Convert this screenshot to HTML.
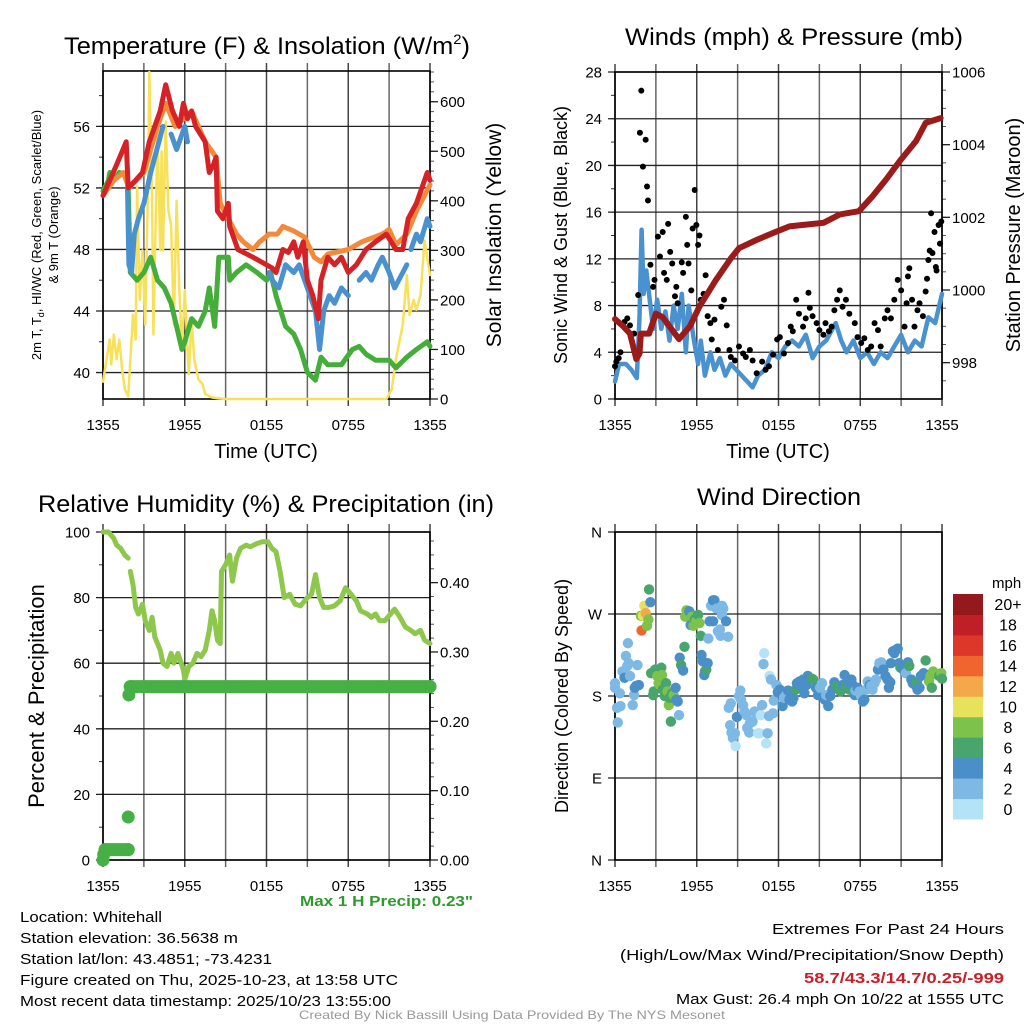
<!DOCTYPE html>
<html><head><meta charset="utf-8">
<style>
html,body{margin:0;padding:0;background:#fff;}
svg{display:block;font-family:"Liberation Sans",sans-serif;}
</style></head>
<body>
<svg id="fig" width="1024" height="1024" viewBox="0 0 1024 1024" xmlns="http://www.w3.org/2000/svg">
<g id="texts">
<text x="64" y="54" font-size="24" textLength="406" lengthAdjust="spacingAndGlyphs">Temperature (F) &amp; Insolation (W/m<tspan font-size="14" dy="-10">2</tspan><tspan dy="10">)</tspan></text>
<text x="625" y="45" font-size="24" textLength="338" lengthAdjust="spacingAndGlyphs">Winds (mph) &amp; Pressure (mb)</text>
<text x="38" y="512" font-size="24" textLength="456" lengthAdjust="spacingAndGlyphs">Relative Humidity (%) &amp; Precipitation (in)</text>
<text x="697" y="505" font-size="24" textLength="164" lengthAdjust="spacingAndGlyphs">Wind Direction</text>
<text x="266" y="458" font-size="20" text-anchor="middle">Time (UTC)</text>
<text x="778" y="458" font-size="20" text-anchor="middle">Time (UTC)</text>
<text transform="translate(41,235) rotate(-90)" font-size="13" text-anchor="middle">2m T, T<tspan font-size="9" dy="3">d</tspan><tspan dy="-3">, HI/WC (Red, Green, Scarlet/Blue)</tspan></text>
<text transform="translate(58,235) rotate(-90)" font-size="13" text-anchor="middle">&amp; 9m T (Orange)</text>
<text transform="translate(501,235) rotate(-90)" font-size="21" text-anchor="middle">Solar Insolation (Yellow)</text>
<text transform="translate(567,235) rotate(-90)" font-size="18" text-anchor="middle">Sonic Wind &amp; Gust (Blue, Black)</text>
<text transform="translate(1020,235) rotate(-90)" font-size="20" text-anchor="middle">Station Pressure (Maroon)</text>
<text transform="translate(44,696) rotate(-90)" font-size="22" text-anchor="middle">Percent &amp; Precipitation</text>
<text transform="translate(568,696) rotate(-90)" font-size="18" text-anchor="middle">Direction (Colored By Speed)</text>
<text x="300" y="906" font-size="15" font-weight="bold" fill="#2e9a2e" textLength="173" lengthAdjust="spacingAndGlyphs">Max 1 H Precip: 0.23"</text>
<g font-size="15">
<text x="20" y="922" textLength="142" lengthAdjust="spacingAndGlyphs">Location: Whitehall</text>
<text x="20" y="943" textLength="218" lengthAdjust="spacingAndGlyphs">Station elevation: 36.5638 m</text>
<text x="20" y="964" textLength="252" lengthAdjust="spacingAndGlyphs">Station lat/lon: 43.4851; -73.4231</text>
<text x="20" y="985" textLength="378" lengthAdjust="spacingAndGlyphs">Figure created on Thu, 2025-10-23, at 13:58 UTC</text>
<text x="20" y="1006" textLength="371" lengthAdjust="spacingAndGlyphs">Most recent data timestamp: 2025/10/23 13:55:00</text>
</g>
<g font-size="15" text-anchor="end">
<text x="1004" y="934" textLength="232" lengthAdjust="spacingAndGlyphs">Extremes For Past 24 Hours</text>
<text x="1004" y="960" textLength="384" lengthAdjust="spacingAndGlyphs">(High/Low/Max Wind/Precipitation/Snow Depth)</text>
<text x="1004" y="983" font-weight="bold" fill="#c8202a" textLength="200" lengthAdjust="spacingAndGlyphs">58.7/43.3/14.7/0.25/-999</text>
<text x="1004" y="1004" textLength="328" lengthAdjust="spacingAndGlyphs">Max Gust: 26.4 mph On 10/22 at 1555 UTC</text>
</g>
<text x="512" y="1019" font-size="12" fill="#999" text-anchor="middle" textLength="426" lengthAdjust="spacingAndGlyphs">Created By Nick Bassill Using Data Provided By The NYS Mesonet</text>
</g>
</svg>
<script>
const xTickLabels=["1355","1955","0155","0755","1355"];
const redT=[[0,51.5],[0.5,52.5],[1,53.5],[1.7,55],[1.85,52],[2.4,52.5],[2.9,53],[3.4,55],[3.8,56],[4.2,57],[4.6,58.7],[5.1,57],[5.6,56],[5.9,57.5],[6.2,56.5],[6.5,57],[6.8,56],[7.5,55],[7.8,53],[8.1,53.5],[8.3,54],[8.4,50.5],[8.8,50],[9.2,51],[9.3,49.5],[9.9,48],[11,47.5],[12,47],[12.4,46.8],[12.7,46.5],[13.2,48],[13.6,47.8],[14,48.5],[14.3,47.5],[14.7,48.5],[15,46],[15.4,45],[15.8,43.5],[16,46],[16.5,47.5],[17,47],[17.5,47.5],[18,46.5],[18.6,47],[19.3,48],[20,48.5],[20.8,49],[21.5,48],[22,48],[22.4,50],[23,51],[23.8,53],[24,52.5]];
const orangeT=[[0,51.5],[0.8,52.5],[1.5,53],[1.9,52],[3,53],[4,56],[4.6,57.5],[5.3,56],[6.5,57],[7.5,55],[8.3,54],[8.6,51],[9.2,50],[9.8,49],[10.3,48.5],[11,48],[11.5,48.5],[12.2,49],[12.8,49],[13.2,49.5],[14,49.2],[14.8,48.8],[15.5,47.5],[16,47.2],[16.5,47.7],[18,48],[19,48.5],[20.5,49],[21,49.3],[21.5,48.3],[22.3,49],[23,50.5],[24,52.2]];
const blueT=[[1.8,52],[1.9,47],[2.1,46.5],[2.3,49],[2.6,50],[3,51],[3.5,53],[4.1,55],[4.4,56],null,[5.0,55.5],[5.4,54.5],[6,56],[6.2,55],null,[12.2,46.5],[12.4,46],[12.9,45.5],[13.4,47],[14,46.5],[14.4,47],[14.8,46],[15.2,45],[15.6,44],[15.9,41.5],[16.2,44],[16.6,45],[17,44.5],[17.5,45.5],[18,45],null,[18.8,46],[19.3,46.5],[19.7,46],[20.2,47],[20.5,47.5],[21,46.5],[21.4,45.5],[22,46.5],[22.3,47],null,[22.6,48],[23,49],[23.3,48.5],[23.8,50],[24,49.5]];
const greenTd=[[0,51.8],[0.4,52.5],[0.5,53],[0.8,52.5],[1.2,53],[1.7,52.8],[1.85,52],[2,46.5],[2.5,46],[3,46.5],[3.5,47.5],[4,46],[4.5,45.5],[5,44.5],[5.4,43],[5.8,41.5],[6,42],[6.5,43.5],[7,43],[7.5,44],[7.8,45.5],[8.2,43],[8.5,47.5],[9.2,47.5],[9.3,46],[9.8,46.5],[10.5,47],[11.3,46.5],[12,46],[12.3,46.5],[12.7,45],[13.4,43],[14,42.5],[14.5,41.5],[15,40],[15.6,39.5],[16,41],[16.5,40.5],[17.5,40.5],[18.3,41.5],[18.8,41.7],[19.3,41.2],[20,40.8],[21,40.8],[21.5,40.3],[22.3,41],[23,41.5],[23.8,42],[24,41.7]];
const solar=[[0,35],[0.5,120],[0.6,70],[0.8,130],[1,80],[1.2,120],[1.4,60],[1.6,20],[1.85,5],[2.2,170],[2.4,120],[2.5,430],[2.7,200],[2.9,300],[3.1,150],[3.3,420],[3.4,660],[3.6,400],[3.7,130],[4,540],[4.2,300],[4.3,500],[4.4,300],[4.6,560],[4.8,380],[5,350],[5.2,150],[5.4,400],[5.6,220],[5.8,100],[6,220],[6.2,100],[6.3,50],[6.5,160],[6.7,80],[7,40],[7.3,30],[7.5,10],[8,3],[9,0],[20.8,0],[21.2,20],[21.5,80],[22,150],[22.3,250],[22.5,170],[22.8,200],[23,180],[23.3,210],[23.6,320],[24,250]];
const windSpd=[[0,1.5],[0.3,3],[0.8,3],[1.2,2.5],[1.6,1.8],[1.8,7],[1.95,14.5],[2.1,9],[2.3,11],[2.6,8],[2.8,6],[3.1,8.5],[3.4,6],[3.7,7.5],[4,5],[4.3,8],[4.6,6],[4.9,9],[5.2,4],[5.4,8],[5.8,5],[6.1,3],[6.3,5],[6.6,2],[7,4],[7.3,2.5],[7.7,3.5],[8.1,2],[8.5,3],[8.9,2.5],[9.3,2],[9.7,1.5],[10.1,1],[10.5,2],[11,2.5],[11.5,4],[12,3.5],[12.5,4.5],[13,5],[13.5,4.5],[14,5.5],[14.5,3.5],[15,4.5],[15.5,5],[16.2,6.5],[16.6,5],[17,4],[17.5,5],[18,3.5],[18.5,4],[19,3],[19.5,4],[20,3.5],[20.5,4.5],[21,5.5],[21.5,4],[22,5],[22.5,4.5],[23,7],[23.5,6.5],[24,9]];
const gusts=[[0,2.8],[0.1,3.2],[0.27,3.5],[0.4,4],[0.7,6.6],[0.9,6.9],[1.1,6.3],[1.4,5.6],[1.7,8.9],[1.93,26.4],[1.83,22.8],[2.25,22.2],[2.05,19.9],[2.35,18.2],[2.42,17],[2.6,11.5],[2.8,9.6],[2.9,10.2],[3.15,13.9],[3.3,12.2],[3.5,14.3],[3.6,10.8],[3.8,10.2],[3.9,15],[4.05,12.6],[4.2,11.6],[4.4,8.8],[4.5,9.6],[4.6,8.2],[4.9,11.7],[5.0,10.8],[5.2,15.6],[5.3,13.2],[5.4,11.6],[5.6,9.3],[5.7,14.6],[5.85,17.9],[5.97,14.9],[6.1,13.2],[6.2,14],[6.3,8.5],[6.5,9],[6.65,10.6],[6.8,7.1],[7.0,6.5],[7.1,5.1],[7.3,6.8],[7.55,4.2],[7.8,7.9],[8.0,8.5],[8.2,6.3],[8.4,4.2],[8.5,3.6],[8.8,3.3],[9.1,4.5],[9.4,3.9],[9.6,3.6],[9.9,4.2],[10.1,3.3],[10.4,2.2],[10.8,3.2],[11.05,2.5],[11.3,2.8],[11.6,3.8],[11.9,5.1],[12.1,5.3],[12.4,3.9],[12.7,4.8],[12.9,6.2],[13.05,5.8],[13.3,8.5],[13.5,7.3],[13.8,6.2],[14.0,6.9],[14.2,9.1],[14.3,7.8],[14.5,7.1],[14.8,6.5],[15.0,5.9],[15.3,5.5],[15.45,6.5],[15.7,5.8],[15.9,6.2],[16.1,7.6],[16.3,8.5],[16.5,9.3],[16.7,7.9],[16.95,8.5],[17.2,7.3],[17.6,6.5],[17.8,5.3],[18.07,4.8],[18.3,5.2],[18.55,4.2],[18.8,4.5],[19.05,6.5],[19.3,5.9],[19.5,4.5],[19.8,6.9],[20.0,7.6],[20.25,6.9],[20.5,8.5],[20.75,10.2],[21.0,9.3],[21.25,6.2],[21.4,8.2],[21.5,10.5],[21.6,11.2],[21.8,8.5],[21.98,6.2],[22.2,7.6],[22.35,8.2],[22.6,7.1],[22.8,9.2],[22.9,10.3],[23.0,11.9],[23.1,12.7],[23.2,15.9],[23.3,12.5],[23.45,14.3],[23.55,11.3],[23.6,11],[23.75,14.9],[23.85,13.3],[23.95,15.2]];
const pressure=[[0,999.2],[0.6,999.0],[1.1,998.8],[1.56,998.1],[1.8,998.25],[1.9,998.8],[2.5,998.8],[3,999.35],[3.5,999.25],[4.7,998.65],[5.5,999.0],[6.2,999.55],[7.4,1000.27],[8.5,1000.87],[9.1,1001.15],[10.4,1001.38],[11.6,1001.57],[12.8,1001.75],[14,1001.8],[15.3,1001.85],[16.5,1002.08],[17.9,1002.17],[18.9,1002.58],[19.9,1003.04],[20.9,1003.55],[22.1,1004.1],[22.8,1004.6],[23.9,1004.73]];
const rh=[[0,100],[0.4,100],[0.8,98],[1.0,96],[1.3,95],[1.6,93],[1.85,92],null,[2.0,88],[2.2,84],[2.4,77],[2.6,75],[2.9,78],[3.1,73],[3.4,70],[3.6,74],[3.8,68],[4.2,64],[4.4,60],[4.7,59],[5.0,63],[5.2,60],[5.5,63],[5.9,58],[6.0,55],[6.3,59],[6.6,60],[6.9,63],[7.2,62],[7.5,64],[7.8,70],[8.0,76],[8.2,73],[8.4,67],[8.6,66],[8.7,88],[9.0,90],[9.3,93],[9.5,85],[9.8,92],[10.1,95],[10.5,96],[10.8,95.5],[11.3,96.5],[11.7,97],[12.1,97],[12.4,95],[12.7,94],[13.0,88],[13.3,80],[13.7,81],[14.1,78],[14.5,77.5],[15.0,80],[15.3,81],[15.6,87],[15.9,80],[16.2,77],[16.6,77],[17.0,77.5],[17.4,79],[17.8,83],[18.2,81],[18.6,79],[18.9,76],[19.4,75],[19.7,74],[20.0,75],[20.3,73],[20.7,73],[21.1,75],[21.4,76.5],[21.8,74],[22.2,71],[22.6,70],[22.9,69],[23.3,70],[23.6,67],[24,66]];
const precip=[[0,0],[0.05,0.008],[0.15,0.015],[1.85,0.015],[1.85,0.062],[1.9,0.238],[2.0,0.25],[24,0.25]];
const windDir=[[0,189,3],[0,194,3],[0.15,167,3],[0.2,151,3],[0.35,183,3],[0.4,169,3],[0.55,207,3],[0.7,200,5],[0.8,224,3],[0.95,238,3],[0.9,213,3],[1.0,216,3],[1.1,202,3],[1.3,170,3],[1.4,181,3],[1.45,189,5],[1.55,191,5],[1.65,214,3],[1.75,192,5],[1.9,268,9],[1.95,252,15],[2.05,268,11],[2.15,279,11],[2.25,271,13],[2.35,257,9],[2.45,264,9],[2.5,297,7],[2.6,283,5],[2.65,205,7],[2.8,181,7],[2.85,185,7],[2.95,209,7],[3.1,202,9],[3.2,194,9],[3.3,192,9],[3.4,211,7],[3.45,203,9],[3.5,187,7],[3.65,180,7],[3.75,194,7],[3.85,185,9],[3.95,170,9],[4.0,178,7],[4.1,152,7],[4.2,183,7],[4.3,181,9],[4.45,189,5],[4.5,176,5],[4.6,174,5],[4.7,159,3],[4.75,222,5],[4.85,214,7],[5.0,208,5],[5.1,234,7],[5.15,267,9],[5.25,274,9],[5.45,273,5],[5.55,258,5],[5.65,267,9],[5.75,257,9],[5.85,264,7],[5.95,262,9],[6.1,269,7],[6.2,260,9],[6.3,246,7],[6.35,225,5],[6.45,218,5],[6.55,203,5],[6.6,207,5],[6.7,209,7],[6.8,216,5],[6.85,243,3],[6.95,262,5],[7.05,279,3],[7.2,285,5],[7.3,285,5],[7.45,276,3],[7.2,262,5],[7.55,251,3],[7.7,253,3],[7.75,246,3],[7.85,279,3],[7.95,276,3],[7.85,269,3],[8.15,262,5],[8.3,245,3],[8.35,167,3],[8.5,172,3],[8.45,148,3],[8.55,140,3],[8.65,134,3],[8.8,139,3],[8.85,125,1],[8.95,157,5],[9.1,180,3],[9.2,186,3],[9.25,176,3],[9.4,170,3],[9.5,163,3],[9.65,159,3],[9.7,145,3],[9.85,140,3],[9.9,150,3],[10.1,152,3],[10.25,163,3],[10.35,162,3],[10.5,139,1],[10.6,139,1],[10.7,159,1],[10.8,170,3],[10.9,215,3],[10.95,227,1],[11.1,128,1],[11.2,139,3],[11.3,158,3],[11.35,202,1],[11.45,198,3],[11.6,161,3],[11.65,175,3],[11.85,192,3],[11.95,184,5],[12.1,187,5],[12.3,169,5],[12.4,178,3],[12.55,181,3],[12.7,186,5],[12.8,176,5],[13.0,174,5],[13.1,178,5],[13.25,187,7],[13.35,194,5],[13.55,196,5],[13.65,191,5],[13.8,198,5],[13.9,183,5],[14.05,192,5],[14.15,202,5],[14.3,198,5],[14.45,199,7],[14.55,198,7],[14.75,189,5],[14.9,181,5],[15.05,189,3],[15.2,194,3],[15.4,176,5],[15.5,181,3],[15.65,169,5],[15.8,180,5],[15.95,187,5],[16.1,195,5],[16.3,191,7],[16.4,189,7],[16.55,185,7],[16.7,192,5],[16.85,203,5],[16.95,192,7],[17.1,194,5],[17.2,187,7],[17.35,198,5],[17.45,192,5],[17.6,181,5],[17.65,186,3],[17.8,189,5],[17.95,185,3],[18.05,180,3],[18.2,174,5],[18.3,176,5],[18.45,187,3],[18.55,196,3],[18.7,192,5],[18.8,191,3],[18.9,187,3],[19.05,194,3],[19.15,198,3],[19.3,209,5],[19.4,216,3],[19.55,217,3],[19.6,214,3],[19.7,209,5],[19.85,202,5],[20.0,198,5],[20.1,189,5],[20.2,195,5],[20.25,216,5],[20.4,229,5],[20.5,227,5],[20.65,231,5],[20.75,232,5],[20.85,216,5],[20.95,211,7],[21.1,213,5],[21.25,207,5],[21.35,205,3],[21.5,217,5],[21.6,213,7],[21.75,198,5],[21.85,194,5],[22.05,192,5],[22.15,195,7],[22.2,187,5],[22.35,189,5],[22.45,202,5],[22.65,205,5],[22.8,219,7],[22.9,203,5],[23.05,196,9],[23.15,202,9],[23.25,189,7],[23.35,207,9],[23.5,205,9],[23.7,203,9],[23.8,202,7],[23.95,205,9],[24,199,7]];
const speedLabels=["0","2","4","6","8","10","12","14","16","18","20+"];
const speedColors=["#b4e2f6","#7db9e4","#4a8fc7","#48a56b","#7cc24b","#e6e25b","#f5a84a","#ef652d","#dd3729","#c01f28","#93191c"];

const NS="http://www.w3.org/2000/svg";
const svg=document.getElementById('fig');
function mk(tag,attrs,parent){const e=document.createElementNS(NS,tag);for(const k in attrs)e.setAttribute(k,attrs[k]);(parent||svg).appendChild(e);return e;}
function lin(d0,d1,r0,r1){return v=>r0+(v-d0)*(r1-r0)/(d1-d0);}
function pathFrom(pts,fx,fy){let d="",pen=false;for(const p of pts){if(!p){pen=false;continue;}d+=(pen?"L":"M")+fx(p[0]).toFixed(1)+","+fy(p[1]).toFixed(1);pen=true;}return d;}

function panel(o){
  const g=mk('g',{});
  
  
  const X=lin(0,24,o.x0,o.x1);
  for(let h=0;h<=24;h+=3){
    const gl=mk('line',{x1:X(h),x2:X(h),y1:o.y0-8,y2:o.y1+7,stroke:(h%6==0?"#444":"#666"),'stroke-width':1.5},g);
    
    
  }
  for(let i=0;i<xTickLabels.length;i++){
    const t=mk('text',{x:X(i*6),y:o.y1+31,'font-size':15,'text-anchor':'middle'},g);
    t.textContent=xTickLabels[i];
    
    
  }
  const L=lin(o.lmin,o.lmax,o.y1,o.y0);
  for(let v=o.lminor0;v<=o.lmax+1e-9;v+=o.lminor){mk('line',{x1:o.x0-4,x2:o.x0,y1:L(v),y2:L(v),stroke:"#333",'stroke-width':1},g);}
  for(const v of o.lmaj){
    const gl=mk('line',{x1:o.x0-7,x2:o.x1,y1:L(v),y2:L(v),stroke:"#222",'stroke-width':1.3},g);
    
    
    const t=mk('text',{x:o.x0-13,y:L(v)+5.5,'font-size':15,'text-anchor':'end'},g);
    t.textContent=o.lfmt?o.lfmt(v):v;
    
    
  }
  if(o.rmaj){
    const R=lin(o.rmin,o.rmax,o.y1,o.y0);
    for(let v=o.rminor0;v<=o.rmax+1e-9;v+=o.rminor){mk('line',{x1:o.x1,x2:o.x1+4,y1:R(v),y2:R(v),stroke:"#555",'stroke-width':1},g);}
    for(const v of o.rmaj){
      mk('line',{x1:o.x1,x2:o.x1+8,y1:R(v),y2:R(v),stroke:"#222",'stroke-width':1.3},g);
      const t=mk('text',{x:o.x1+10,y:R(v)+5.5,'font-size':15},g);
      t.textContent=o.rfmt?o.rfmt(v):v;
      
      
    }
    o.R=R;
  }
  mk('rect',{x:o.x0,y:o.y0,width:o.x1-o.x0,height:o.y1-o.y0,fill:'none',stroke:'#000','stroke-width':1.6},g);
  o.X=X;o.L=L;o.g=g;return o;
}

const p1=panel({name:'temperature-panel',x0:103,x1:430,y0:71,y1:399,lmin:38.28,lmax:59.6,lmaj:[40,44,48,52,56],lminor:2,lminor0:40,rmin:0,rmax:662,rmaj:[0,100,200,300,400,500,600],rminor:20,rminor0:0});
function series(p,data,Y,color,w,name){
  const e=mk('path',{d:pathFrom(data,p.X,Y),fill:'none',stroke:color,'stroke-width':w,'stroke-linejoin':'round','stroke-linecap':'round'},p.g);
  
  
  return e;
}
series(p1,solar,p1.R,"#f8e15a",2.5,'solar-line');
series(p1,greenTd,p1.L,"#45ad3a",5,'dewpoint-line');
series(p1,orangeT,p1.L,"#f5893a",5,'temp-9m-line');
series(p1,blueT,p1.L,"#4a91cf",5,'windchill-line');
series(p1,redT,p1.L,"#d42226",5,'temp-2m-line');

const p2=panel({name:'winds-panel',x0:615,x1:942,y0:72,y1:399,lmin:0,lmax:28,lmaj:[0,4,8,12,16,20,24,28],lminor:2,lminor0:0,rmin:997.0,rmax:1006,rmaj:[998,1000,1002,1004,1006],rminor:0.5,rminor0:997.5});
series(p2,windSpd,p2.L,"#4a91cf",4.5,'wind-speed-line');
for(const gp of gusts){
  const c=mk('circle',{cx:p2.X(gp[0]),cy:p2.L(gp[1]),r:3,fill:'#000'},p2.g);
  
  
}
series(p2,pressure,p2.R,"#9b1a1a",6,'pressure-line');

const p3=panel({name:'humidity-panel',x0:103,x1:430,y0:532,y1:860,lmin:0,lmax:100,lmaj:[0,20,40,60,80,100],lminor:10,lminor0:0,rmin:0,rmax:0.473,rmaj:[0,0.1,0.2,0.3,0.4],rminor:0.02,rminor0:0,rfmt:v=>v.toFixed(2)});
series(p3,rh,p3.L,"#8dc84c",5,'rh-line');
for(let i=1;i<precip.length;i++){
  if(precip[i][1]===precip[i-1][1]){
    const l=mk('line',{x1:p3.X(precip[i-1][0]),x2:p3.X(precip[i][0]),y1:p3.R(precip[i][1]),y2:p3.R(precip[i][1]),stroke:'#46b046','stroke-width':13,'stroke-linecap':'round'},p3.g);
    
    
  }
}
for(const pp of precip){
  const c=mk('circle',{cx:p3.X(pp[0]),cy:p3.R(pp[1]),r:6.5,fill:'#46b046'},p3.g);
  
  
}

const p4=panel({name:'wind-direction-panel',x0:615,x1:942,y0:532,y1:860,lmin:0,lmax:360,lmaj:[0,90,180,270,360],lminor:90,lminor0:0,lfmt:v=>({0:'N',90:'E',180:'S',270:'W',360:'N'})[v]});
for(const d of windDir){
  const idx=Math.min(10,Math.floor(d[2]/2));
  const c=mk('circle',{cx:p4.X(d[0]),cy:p4.L(d[1]),r:5.2,fill:speedColors[idx]},p4.g);
  
  
}
const cb=mk('g',{});


const cbTop=594,cbBot=819,cbH=(cbBot-cbTop)/speedColors.length;
for(let i=0;i<speedColors.length;i++){
  const y=cbBot-(i+1)*cbH;
  const r=mk('rect',{x:953,y:y,width:30,height:cbH+0.5,fill:speedColors[i]},cb);
  
  
  const t=mk('text',{x:1008,y:y+cbH/2+6,'font-size':16,'text-anchor':'middle'},cb);
  t.textContent=speedLabels[i];
  
  
}
const mt=mk('text',{x:992,y:588,'font-size':15},cb);
mt.textContent='mph';


</script>
</body></html>
